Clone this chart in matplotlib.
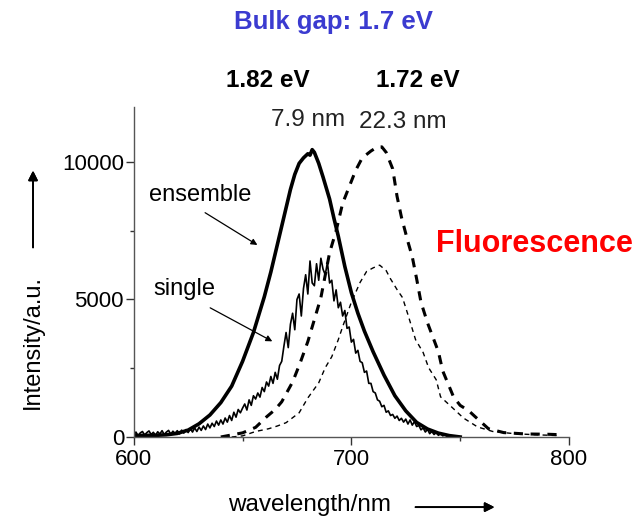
import matplotlib
matplotlib.use("Agg")
import matplotlib.pyplot as plt

plt.rcParams["font.family"] = ["Liberation Sans", "DejaVu Sans"]

# ensemble, 7.9 nm particles (thick solid)
ens79_wl = [600, 605, 610, 615, 620, 625, 630, 635, 640, 645, 650, 655, 660, 663, 666,
            669, 672, 674, 676, 678, 680, 681, 682, 683, 685, 687, 690, 692, 694, 697,
            700, 703, 706, 710, 715, 720, 725, 730, 735, 740, 745, 750]
ens79_int = [50, 60, 60, 80, 130, 250, 480, 800, 1250, 1850, 2750, 3800, 5100, 6000, 7000,
             8000, 9000, 9550, 9950, 10150, 10300, 10250, 10450, 10350, 9950, 9450, 8650, 7950, 7300, 6200,
             5250, 4500, 3850, 3100, 2250, 1500, 950, 530, 290, 140, 50, 0]

# single particle, 7.9 nm (thin, noisy), 1 nm steps from 600 nm
sgl79_wl = list(range(600, 751))
sgl79_int = [60, 180, 40, 150, 200, 70, 160, 220, 90, 170,
             60, 190, 110, 230, 90, 180, 240, 100, 210, 130,
             230, 110, 250, 140, 270, 160, 300, 180, 330, 200,
             360, 240, 400, 270, 470, 330, 500, 380, 580, 430,
             620, 470, 690, 540, 780, 600, 900, 720, 1000, 880,
             1050, 1200, 980, 1350, 1150, 1500, 1380, 1600, 1450, 1800,
             1650, 2000, 1850, 2200, 1950, 2350, 2100, 2600, 2750, 3300,
             3800, 3250, 4100, 4500, 3900, 5000, 5200, 4400, 5400, 5900,
             5200, 6400, 5600, 5500, 6300, 5700, 6500, 6100, 5900, 6350,
             5600, 5700, 4950, 5350, 4700, 4900, 4400, 4600, 3950, 4000,
             3450, 3550, 3050, 3150, 2750, 2700, 2350, 2400, 1950, 1950,
             1650, 1600, 1350, 1300, 1100, 1150, 900, 950, 780, 820,
             680, 760, 600, 680, 540, 650, 470, 620, 430, 560,
             380, 420, 260, 330, 180, 280, 120, 200, 90, 160,
             60, 130, 40, 90, 20, 60, 10, 30, 0, 10,
             0]

# ensemble, 22.3 nm particles (thick dashed)
ens223_wl = [640, 650, 656, 661, 665, 668, 673, 676.5, 680, 683, 686, 690, 693, 696, 699,
             702, 705, 709, 712, 714, 716, 719, 721, 723, 726, 728, 730, 732, 735, 740,
             742, 747, 750, 754, 757, 763, 770, 780, 790, 797]
ens223_int = [0, 150, 350, 730, 1000, 1280, 2000, 2700, 3470, 4270, 5070, 6700, 7500, 8500, 9100,
              9700, 10150, 10400, 10550, 10550, 10350, 9750, 8750, 8000, 7100, 6550, 5750, 4900, 4150, 3100,
              2400, 1450, 1150, 950, 730, 300, 160, 110, 100, 80]

# single particle, 22.3 nm (thin dashed)
sgl223_wl = [645, 650, 656, 662, 666, 670, 676, 680, 685, 688, 691, 694, 696, 700, 704,
             707, 710, 713, 716, 718, 721, 723.5, 726, 729.5, 733, 735.5, 739, 741, 746.5, 751.5,
             758, 765, 775, 785, 795]
sgl223_int = [0, 40, 200, 300, 400, 520, 880, 1420, 1970, 2520, 2920, 3540, 4010, 4900, 5620,
              6020, 6150, 6250, 6050, 5750, 5360, 5070, 4450, 3540, 3070, 2520, 2080, 1460, 1060, 690,
              365, 200, 120, 80, 50]

x_ticks = [600, 700, 800]
y_ticks = [0, 5000, 10000]

fig = plt.figure(figsize=(6.4, 5.18), dpi=100)
ax = fig.add_axes([0.209, 0.1564, 0.680, 0.637])

ax.plot(ens79_wl, ens79_int, color="black", lw=2.6, solid_joinstyle="round")
ax.plot(sgl79_wl, sgl79_int, color="black", lw=1.2)
ax.plot(ens223_wl, ens223_int, color="black", lw=2.2, linestyle=(0, (3, 2.5)))
ax.plot(sgl223_wl, sgl223_int, color="black", lw=1.0, linestyle=(0, (3.5, 3)))

ax.set_xlim(600, 800)
ax.set_ylim(0, 12000)
ax.set_xticks(x_ticks)
ax.set_yticks(y_ticks)
ax.set_xticks([650, 750], minor=True)
ax.set_yticks([2500, 7500], minor=True)
ax.tick_params(axis="both", which="major", direction="out", length=6, width=1,
               labelsize=16, color="#333333")
ax.tick_params(axis="y", which="major", pad=1)
ax.tick_params(axis="x", which="major", pad=3)
ax.tick_params(axis="both", which="minor", direction="out", length=3, width=1, color="#333333")
for side in ("top", "right"):
    ax.spines[side].set_visible(False)
for side in ("left", "bottom"):
    ax.spines[side].set_color("#555555")
    ax.spines[side].set_linewidth(1.0)

# curve labels with pointer arrows
ax.text(630.3, 8800, "ensemble", fontsize=17, ha="center", va="center")
ax.annotate("", xy=(657.9, 6930), xytext=(631.7, 8210),
            arrowprops=dict(arrowstyle="-|>", color="black", lw=0.9, mutation_scale=9))
ax.text(623.4, 5365, "single", fontsize=17, ha="center", va="center")
ax.annotate("", xy=(664.8, 3430), xytext=(634, 4745),
            arrowprops=dict(arrowstyle="-|>", color="black", lw=0.9, mutation_scale=9))

# axis labels with direction arrows
fig.text(0.0516, 0.3398, "Intensity/a.u.", rotation=90, fontsize=17,
         ha="center", va="center")
fig.add_artist(plt.annotate("", xy=(0.0516, 0.676), xytext=(0.0516, 0.517),
                            xycoords="figure fraction", textcoords="figure fraction",
                            arrowprops=dict(arrowstyle="-|>", color="black", lw=1.3,
                                            mutation_scale=14)))
fig.text(0.484, 0.025, "wavelength/nm", fontsize=17.5, ha="center", va="center")
fig.add_artist(plt.annotate("", xy=(0.777, 0.021), xytext=(0.645, 0.021),
                            xycoords="figure fraction", textcoords="figure fraction",
                            arrowprops=dict(arrowstyle="-|>", color="black", lw=1.3,
                                            mutation_scale=14)))

# headings
fig.text(0.521, 0.958, "Bulk gap: 1.7 eV", fontsize=18.5, fontweight="bold",
         color="#3b3bd0", ha="center", va="center")
fig.text(0.418, 0.845, "1.82 eV", fontsize=17.5, fontweight="bold", ha="center", va="center")
fig.text(0.653, 0.845, "1.72 eV", fontsize=17.5, fontweight="bold", ha="center", va="center")
fig.text(0.481, 0.768, "7.9 nm", fontsize=17.5, color="#222222", ha="center", va="center")
fig.text(0.630, 0.764, "22.3 nm", fontsize=17.5, color="#222222", ha="center", va="center")
fig.text(0.835, 0.529, "Fluorescence", fontsize=22, fontweight="bold", color="#ff0000",
         ha="center", va="center")

fig.savefig("out.png", dpi=100)
